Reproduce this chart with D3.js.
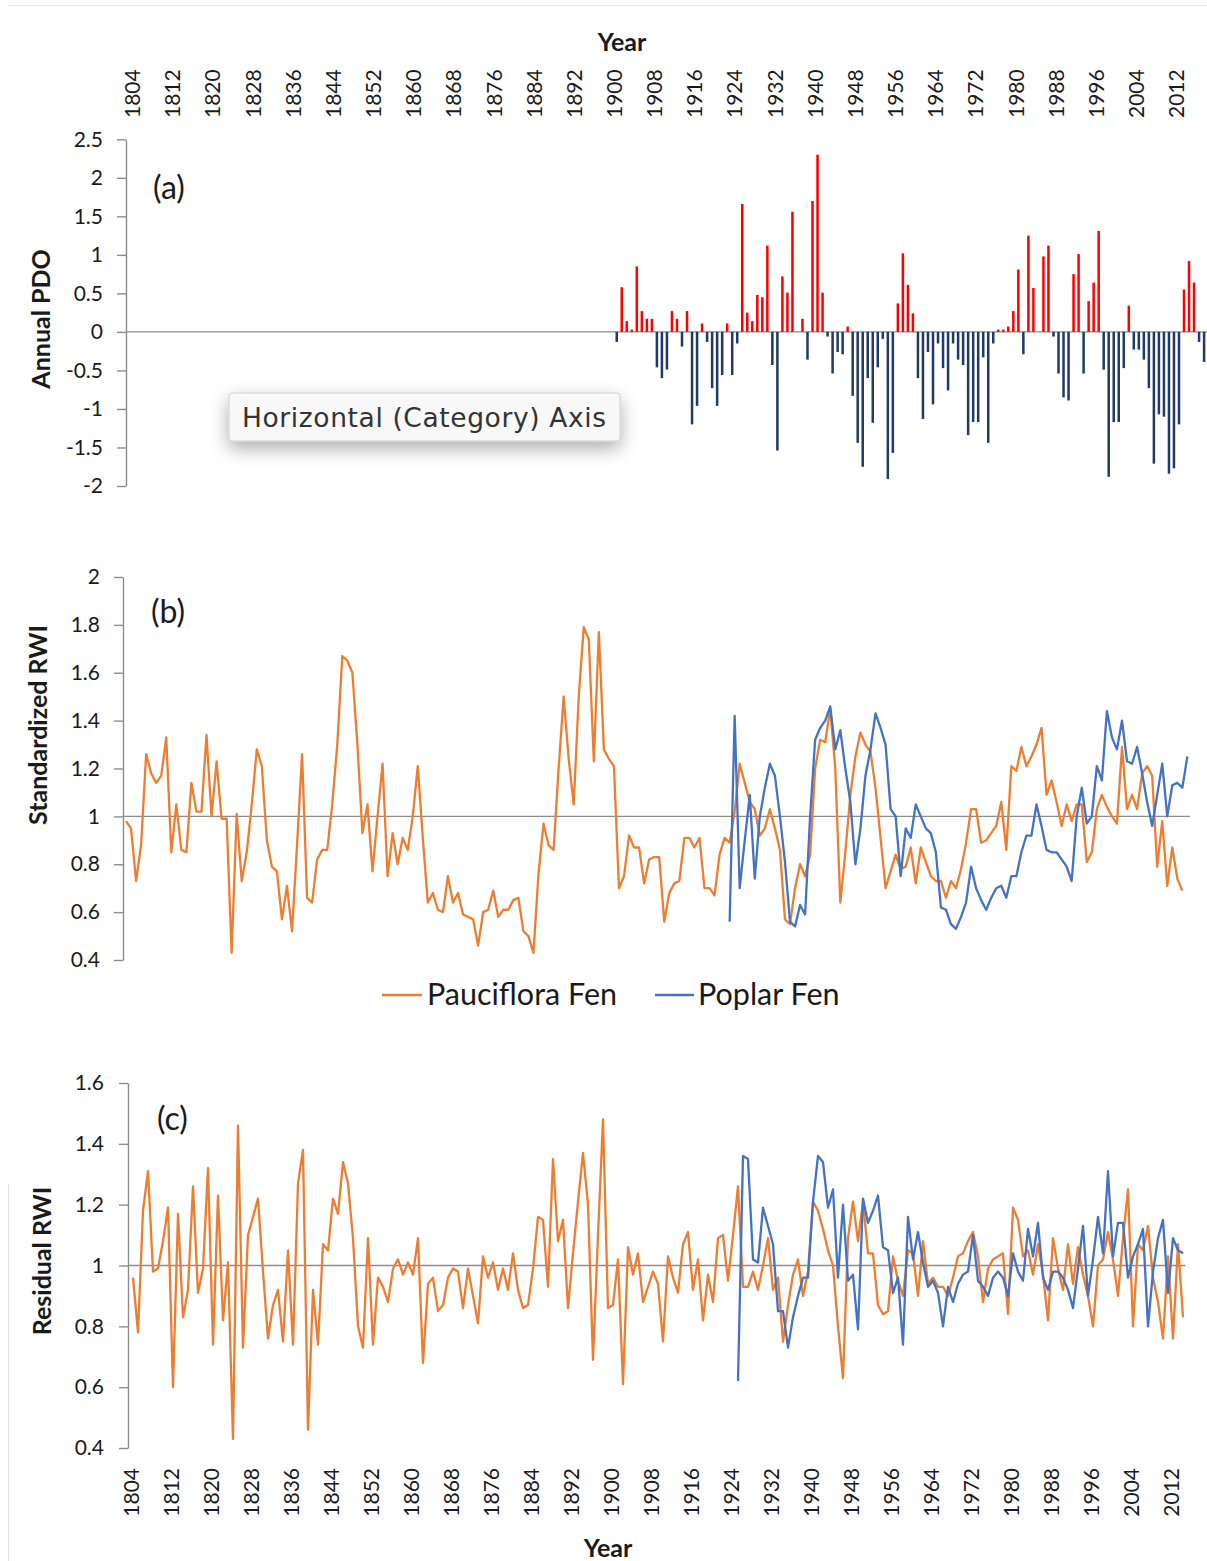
<!DOCTYPE html>
<html>
<head>
<meta charset="utf-8">
<script src="https://cdn.jsdelivr.net/npm/d3@7"></script>
<style>
  html, body { margin: 0; padding: 0; background: #fff; }
  svg { display: block; }
</style>
</head>
<body>
<svg id="chart" width="1207" height="1561"></svg>
<script>
// ---------- categories & tick labels ----------
const tickYears = [1804,1812,1820,1828,1836,1844,1852,1860,1868,1876,1884,1892,1900,1908,1916,1924,1932,1940,1948,1956,1964,1972,1980,1988,1996,2004,2012];
const pdoTicks = [2.5, 2, 1.5, 1, 0.5, 0, -0.5, -1, -1.5, -2];
const pdoTickLabels = ["2.5","2","1.5","1","0.5","0","-0.5","-1","-1.5","-2"];
const stdTicks = [2, 1.8, 1.6, 1.4, 1.2, 1, 0.8, 0.6, 0.4];
const stdTickLabels = ["2","1.8","1.6","1.4","1.2","1","0.8","0.6","0.4"];
const resTicks = [1.6, 1.4, 1.2, 1, 0.8, 0.6, 0.4];
const resTickLabels = ["1.6","1.4","1.2","1","0.8","0.6","0.4"];

// ---------- (a) annual PDO, 1900-2017 ----------
const pdoStart = 1900;
const pdoValues = [
  -0.13, 0.58, 0.14, 0.03, 0.85, 0.27, 0.17, 0.17,-0.46,-0.60,
  -0.49, 0.27, 0.17,-0.19, 0.27,-1.20,-0.96, 0.11,-0.13,-0.73,
  -0.96,-0.56, 0.11,-0.56,-0.15, 1.66, 0.25, 0.14, 0.48, 0.45,
   1.12,-0.43,-1.54, 0.72, 0.51, 1.56, 0.00, 0.17,-0.36, 1.70,
   2.30, 0.51,-0.06,-0.54,-0.26,-0.29, 0.07,-0.83,-1.44,-1.75,
  -0.60,-1.18,-0.46,-0.09,-1.91,-1.57, 0.37, 1.02, 0.61, 0.24,
  -0.60,-1.13,-0.26,-0.94,-0.15,-0.47,-0.76,-0.15,-0.36,-0.43,
  -1.34,-1.17,-1.17,-0.33,-1.44,-0.15, 0.03, 0.03, 0.07, 0.27,
   0.81,-0.29, 1.25, 0.57, 0.00, 0.98, 1.12,-0.06,-0.54,-0.85,
  -0.89, 0.75, 1.01,-0.54, 0.40, 0.64, 1.31,-0.49,-1.88,-1.17,
  -1.17,-0.47, 0.34,-0.23,-0.23,-0.36,-0.73,-1.71,-1.07,-1.10,
  -1.84,-1.77,-1.20, 0.55, 0.92, 0.64,-0.13,-0.39
];

// ---------- (b) standardized RWI ----------
const paucifloraStdStart = 1804;
const paucifloraStd = [
  0.98,0.95,0.73,0.88,1.26,1.18,1.14,1.17,1.33,0.85,
  1.05,0.86,0.85,1.14,1.02,1.02,1.34,1.00,1.23,0.99,
  0.99,0.43,1.01,0.73,0.85,1.05,1.28,1.21,0.90,0.79,
  0.77,0.57,0.71,0.52,0.88,1.26,0.66,0.64,0.82,0.86,
  0.86,1.05,1.30,1.67,1.65,1.60,1.30,0.93,1.05,0.77,
  1.00,1.22,0.75,0.93,0.80,0.91,0.86,1.00,1.21,0.91,
  0.64,0.68,0.61,0.60,0.75,0.64,0.68,0.59,0.58,0.57,
  0.46,0.60,0.61,0.69,0.58,0.61,0.61,0.65,0.66,0.52,
  0.50,0.43,0.76,0.97,0.88,0.86,1.20,1.50,1.24,1.05,
  1.50,1.79,1.74,1.23,1.77,1.28,1.24,1.21,0.70,0.75,
  0.92,0.87,0.87,0.72,0.82,0.83,0.83,
  0.56,0.68,0.72,0.73,0.91,0.91,0.87,0.91,0.70,0.70,
  0.67,0.84,0.91,0.89,1.02,1.22,1.14,1.06,1.03,0.92,
  0.95,1.03,0.95,0.86,0.57,0.55,0.70,0.80,0.75,0.84,
  1.20,1.32,1.31,1.45,1.20,0.64,0.85,1.09,1.25,1.35,
  1.30,1.27,1.12,0.91,0.70,0.77,0.84,0.78,0.79,0.87,
  0.72,0.87,0.81,0.75,0.73,0.73,0.66,0.73,0.70,0.78,
  0.89,1.03,1.03,0.89,0.90,0.93,0.96,1.06,0.86,1.21,
  1.19,1.29,1.21,1.25,1.30,1.37,1.09,1.15,1.06,0.96,
  1.05,0.98,1.05,1.05,0.81,0.85,1.03,1.09,1.04,1.00,
  0.97,1.29,1.03,1.09,1.03,1.18,1.21,1.17,0.79,0.98,
  0.71,0.87,0.74,0.69
];
const poplarStdStart = 1924;
const poplarStd = [
  0.56,1.42,0.70,0.90,1.09,0.74,1.00,1.12,1.22,1.17,
  1.00,0.81,0.56,0.54,0.63,0.59,1.00,1.32,1.37,1.40,
  1.46,1.28,1.36,1.20,1.06,0.80,0.95,1.17,1.28,1.43,
  1.37,1.30,1.03,1.00,0.75,0.95,0.91,1.05,1.00,0.95,
  0.93,0.85,0.62,0.61,0.55,0.53,0.58,0.64,0.79,0.70,
  0.65,0.61,0.66,0.70,0.71,0.66,0.75,0.75,0.85,0.92,
  0.92,1.05,0.96,0.86,0.85,0.85,0.82,0.79,0.73,1.00,
  1.12,0.97,1.00,1.21,1.15,1.44,1.33,1.28,1.40,1.23,
  1.22,1.29,1.18,1.06,0.96,1.09,1.22,1.00,1.13,1.14,
  1.12,1.25
];

// ---------- (c) residual RWI ----------
const paucifloraResStart = 1804;
const paucifloraRes = [
  0.96,0.78,1.18,1.31,0.98,0.99,1.08,1.19,0.60,1.17,
  0.83,0.92,1.26,0.91,0.99,1.32,0.74,1.23,0.82,1.01,
  0.43,1.46,0.73,1.10,1.16,1.22,0.98,0.76,0.87,0.92,
  0.75,1.05,0.74,1.27,1.38,0.46,0.92,0.74,1.07,1.05,
  1.22,1.17,1.34,1.27,1.09,0.80,0.73,1.09,0.74,0.96,
  0.93,0.88,0.99,1.02,0.97,1.01,0.97,1.09,0.68,0.94,
  0.96,0.85,0.87,0.96,0.99,0.98,0.86,0.99,0.90,0.81,
  1.03,0.96,1.01,0.92,0.99,0.92,1.04,0.92,0.86,0.87,
  0.99,1.16,1.15,0.93,1.35,1.08,1.15,0.86,1.04,1.21,
  1.37,1.20,0.69,1.10,1.48,0.86,0.87,1.02,0.61,1.06,
  0.97,
  1.04,0.88,0.93,0.98,0.94,0.75,1.03,0.96,0.91,1.07,
  1.11,0.92,1.02,0.82,0.97,0.88,1.09,1.10,0.95,1.10,
  1.26,0.93,0.93,0.98,0.92,1.00,1.09,0.92,0.96,0.75,
  0.87,0.97,1.02,0.90,0.98,1.21,1.18,1.12,1.05,1.00,
  0.80,0.63,1.09,1.21,1.08,1.21,1.04,1.04,0.87,0.84,
  0.85,1.03,0.95,0.90,1.05,1.04,0.90,1.08,0.94,0.96,
  0.93,0.93,0.90,0.96,1.03,1.04,1.08,1.11,1.03,0.88,
  0.99,1.02,1.03,1.04,0.84,1.19,1.15,1.03,1.05,0.97,
  1.07,0.97,0.82,1.09,0.99,0.92,1.07,0.94,1.06,0.97,
  0.90,0.80,1.00,1.02,1.11,1.02,0.90,1.09,1.25,0.80,
  1.07,1.05,1.13,0.96,0.88,0.76,1.03,0.76,1.07,0.83,
  0.90
];
const poplarResStart = 1925;
const poplarRes = [
  0.62,1.36,1.35,1.02,1.01,1.19,1.13,1.07,0.85,0.85,
  0.73,0.83,0.90,0.96,0.96,1.21,1.36,1.34,1.19,1.25,
  0.96,1.20,0.95,0.97,0.79,1.22,1.14,1.18,1.23,1.06,
  1.05,0.91,0.96,0.74,1.16,1.02,1.11,1.01,0.93,0.95,
  0.91,0.80,0.93,0.88,0.94,0.97,0.98,1.10,0.95,0.93,
  0.90,0.96,0.98,0.96,0.90,1.04,0.98,0.95,1.12,1.03,
  1.14,0.96,0.92,0.98,0.98,0.96,0.92,0.86,0.99,1.13,
  0.90,1.02,1.16,1.04,1.31,1.03,1.14,1.14,0.96,1.03,
  1.07,1.12,0.80,0.98,1.09,1.15,0.91,1.09,1.05,1.04
];

// ---------- styling ----------
const FONT = 'Lato, "Open Sans", "Liberation Sans", sans-serif';
const AXIS = '#8c8c8c';
const ORANGE = '#ED7D31', BLUE = '#4472C4', RED = '#FF0000', NAVY = '#213A66';
const TEXT = '#1a1a1a';

const svg = d3.select('#chart');
const toSeries = (start, arr) => arr.map((v, i) => ({ year: start + i, value: v }));

// faint frame edges of the figure
svg.append('line').attr('x1', 8).attr('x2', 1207).attr('y1', 5.5).attr('y2', 5.5)
  .attr('stroke', '#e8e8e8').attr('stroke-width', 1);
svg.append('line').attr('x1', 8.5).attr('x2', 8.5).attr('y1', 1184).attr('y2', 1561)
  .attr('stroke', '#e0e0e0').attr('stroke-width', 1);

function styleYAxis(g) {
  g.select('.domain').attr('stroke', AXIS).attr('stroke-width', 1.4);
  g.selectAll('.tick line').attr('stroke', AXIS).attr('stroke-width', 1.4);
  g.selectAll('.tick text').attr('font-family', FONT).attr('font-size', 21).attr('fill', TEXT);
}
function yAxis(scale, ticks, labels, x, padding) {
  return svg.append('g').attr('transform', `translate(${x},0)`)
    .call(d3.axisLeft(scale).tickValues(ticks).tickSize(9).tickSizeOuter(0).tickPadding(padding)
      .tickFormat(d => labels[ticks.indexOf(d)]))
    .call(styleYAxis);
}
function yTitle(text, x, y) {
  svg.append('text').attr('transform', `translate(${x},${y}) rotate(-90)`)
    .attr('text-anchor', 'middle').attr('dy', '0.35em')
    .attr('font-family', FONT).attr('font-weight', 700).attr('font-size', 25).attr('fill', TEXT)
    .text(text);
}
function panelTag(text, x, y) {
  svg.append('text').attr('x', x).attr('y', y).attr('font-family', FONT)
    .attr('font-size', 32).attr('fill', TEXT).text(text);
}

// ================= (a) Annual PDO =================
const xA = d3.scaleBand().domain(d3.range(1804, 2018)).range([132.3, 1206.6]);
const yA = d3.scaleLinear().domain([-2, 2.5]).range([486, 139.3]);

svg.append('line').attr('x1', 126).attr('x2', 1207).attr('y1', yA(0)).attr('y2', yA(0))
  .attr('stroke', AXIS).attr('stroke-width', 1.4);
yAxis(yA, pdoTicks, pdoTickLabels, 126, 14);

const barW = xA.step() * 0.5;
svg.append('g').selectAll('rect').data(toSeries(pdoStart, pdoValues)).join('rect')
  .attr('x', d => xA(d.year) + xA.bandwidth() / 2 - barW / 2)
  .attr('width', barW)
  .attr('y', d => yA(Math.max(0, d.value)))
  .attr('height', d => Math.abs(yA(d.value) - yA(0)))
  .attr('fill', d => d.value >= 0 ? RED : NAVY);

// year labels above panel (a)
svg.append('g').attr('transform', 'translate(0,118)')
  .call(d3.axisTop(xA).tickValues(tickYears).tickSize(0).tickPadding(0))
  .call(g => g.select('.domain').remove())
  .selectAll('text')
  .attr('transform', 'rotate(-90)').attr('x', 0).attr('y', 0).attr('dy', '0.25em')
  .attr('text-anchor', 'start').attr('font-family', FONT).attr('font-size', 21).attr('fill', TEXT);

svg.append('text').attr('x', 622).attr('y', 51).attr('text-anchor', 'middle')
  .attr('font-family', FONT).attr('font-weight', 700).attr('font-size', 25).attr('fill', TEXT).text('Year');
yTitle('Annual PDO', 41, 319);
panelTag('(a)', 153, 199);

// hover hint box left on the category axis
const defs = svg.append('defs');
const shadow = defs.append('filter').attr('id', 'tipShadow')
  .attr('x', '-20%').attr('y', '-60%').attr('width', '140%').attr('height', '260%');
shadow.append('feDropShadow').attr('dx', 0).attr('dy', 7).attr('stdDeviation', 9)
  .attr('flood-color', '#000').attr('flood-opacity', 0.32);
const tip = svg.append('g');
tip.append('rect').attr('x', 229).attr('y', 393).attr('width', 391).attr('height', 48).attr('rx', 3)
  .attr('fill', '#f8f8f8').attr('stroke', '#cfcfcf').attr('stroke-width', 1)
  .attr('filter', 'url(#tipShadow)');
tip.append('text').attr('x', 242).attr('y', 427)
  .attr('font-family', '"DejaVu Sans", "Liberation Sans", sans-serif').attr('font-size', 26.5)
  .attr('textLength', 364).attr('lengthAdjust', 'spacing')
  .attr('fill', '#333').text('Horizontal (Category) Axis');

// ================= (b) Standardized RWI =================
const xB = d3.scaleBand().domain(d3.range(1804, 2016)).range([123.5, 1189.9]);
const yB = d3.scaleLinear().domain([0.4, 2]).range([960, 577]);

svg.append('line').attr('x1', 123).attr('x2', 1189.9).attr('y1', yB(1)).attr('y2', yB(1))
  .attr('stroke', AXIS).attr('stroke-width', 1.4);
yAxis(yB, stdTicks, stdTickLabels, 123, 14);

const lineB = d3.line().x(d => xB(d.year) + xB.bandwidth() / 2).y(d => yB(d.value));
svg.append('path').datum(toSeries(paucifloraStdStart, paucifloraStd))
  .attr('d', lineB).attr('fill', 'none').attr('stroke', ORANGE).attr('stroke-width', 2.3)
  .attr('stroke-linejoin', 'round');
svg.append('path').datum(toSeries(poplarStdStart, poplarStd))
  .attr('d', lineB).attr('fill', 'none').attr('stroke', BLUE).attr('stroke-width', 2.3)
  .attr('stroke-linejoin', 'round');

yTitle('Standardized RWI', 38, 725);
panelTag('(b)', 151, 623);

// legend
const legend = svg.append('g').attr('font-family', FONT).attr('font-size', 30.5).attr('fill', TEXT);
legend.append('line').attr('x1', 382).attr('x2', 422).attr('y1', 995).attr('y2', 995)
  .attr('stroke', ORANGE).attr('stroke-width', 2.3);
legend.append('text').attr('x', 427).attr('y', 1005).text('Pauciflora Fen');
legend.append('line').attr('x1', 655).attr('x2', 694).attr('y1', 995).attr('y2', 995)
  .attr('stroke', BLUE).attr('stroke-width', 2.3);
legend.append('text').attr('x', 698).attr('y', 1005).text('Poplar Fen');

// ================= (c) Residual RWI =================
const xC = d3.scaleBand().domain(d3.range(1804, 2015)).range([130.5, 1185.5]);
const yC = d3.scaleLinear().domain([0.4, 1.6]).range([1448, 1083]);

svg.append('line').attr('x1', 128).attr('x2', 1185.5).attr('y1', yC(1)).attr('y2', yC(1))
  .attr('stroke', AXIS).attr('stroke-width', 1.4);
yAxis(yC, resTicks, resTickLabels, 128, 15);

const lineC = d3.line().x(d => xC(d.year) + xC.bandwidth() / 2).y(d => yC(d.value));
svg.append('path').datum(toSeries(paucifloraResStart, paucifloraRes))
  .attr('d', lineC).attr('fill', 'none').attr('stroke', ORANGE).attr('stroke-width', 2.3)
  .attr('stroke-linejoin', 'round');
svg.append('path').datum(toSeries(poplarResStart, poplarRes))
  .attr('d', lineC).attr('fill', 'none').attr('stroke', BLUE).attr('stroke-width', 2.3)
  .attr('stroke-linejoin', 'round');

svg.append('g').attr('transform', 'translate(0,1468)')
  .call(d3.axisBottom(xC).tickValues(tickYears).tickSize(0).tickPadding(0))
  .call(g => g.select('.domain').remove())
  .selectAll('text')
  .attr('transform', 'rotate(-90)').attr('x', 0).attr('y', 0).attr('dy', '0.3em')
  .attr('text-anchor', 'end').attr('font-family', FONT).attr('font-size', 21).attr('fill', TEXT);

svg.append('text').attr('x', 608).attr('y', 1557).attr('text-anchor', 'middle')
  .attr('font-family', FONT).attr('font-weight', 700).attr('font-size', 25).attr('fill', TEXT).text('Year');
yTitle('Residual RWI', 42, 1261);
panelTag('(c)', 157, 1130);
</script>
</body>
</html>
